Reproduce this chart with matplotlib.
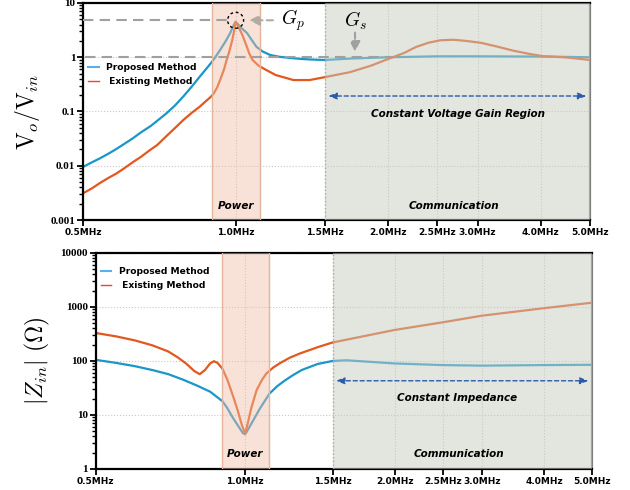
import matplotlib
matplotlib.use('Agg')
import matplotlib.pyplot as plt
from matplotlib.lines import Line2D
from matplotlib.patches import Circle
from matplotlib.transforms import ScaledTranslation
from matplotlib.ticker import FixedLocator, NullLocator, NullFormatter

plt.rcParams['mathtext.fontset'] = 'cm'

# ---- data (MHz) ----
xticks = [0.5, 1.0, 1.5, 2.0, 2.5, 3.0, 4.0, 5.0]
xticklabels = ['0.5MHz', '1.0MHz', '1.5MHz', '2.0MHz', '2.5MHz', '3.0MHz', '4.0MHz', '5.0MHz']

gain_f_prop = [0.5, 0.52, 0.54, 0.56, 0.58, 0.6, 0.627, 0.65, 0.68, 0.7, 0.731, 0.76, 0.789,
               0.82, 0.85, 0.88, 0.904, 0.932, 0.955, 0.975, 0.99, 1.0, 1.01, 1.025, 1.053,
               1.075, 1.10, 1.13, 1.17, 1.22, 1.28, 1.35, 1.4, 1.5, 1.7, 2.0, 2.5, 3.0, 4.0, 5.0]
gain_prop = [0.0095, 0.0115, 0.0137, 0.0165, 0.02, 0.0245, 0.032, 0.041, 0.054, 0.067, 0.093,
             0.13, 0.19, 0.29, 0.44, 0.65, 0.89, 1.36, 1.95, 2.75, 3.8, 4.5, 4.1, 3.5, 2.8,
             2.1, 1.55, 1.28, 1.1, 1.02, 0.97, 0.93, 0.91, 0.89, 0.95, 1.0, 1.04, 1.04, 1.03, 1.0]

gain_f_exist = [0.5, 0.52, 0.54, 0.56, 0.582, 0.6, 0.63, 0.65, 0.678, 0.7, 0.73, 0.76, 0.789,
                0.82, 0.85, 0.87, 0.89, 0.904, 0.92, 0.932, 0.95, 0.96, 0.97, 0.985, 0.995, 1.0,
                1.008, 1.018, 1.028, 1.04, 1.052, 1.065, 1.08, 1.11, 1.15, 1.2, 1.3, 1.4, 1.5,
                1.68, 1.85, 2.0, 2.15, 2.27, 2.4, 2.53, 2.69, 2.85, 3.06, 3.3, 3.53, 3.8, 4.03,
                4.5, 5.0]
gain_exist = [0.0031, 0.0038, 0.0048, 0.0059, 0.0072, 0.0087, 0.012, 0.0145, 0.0195, 0.024,
              0.035, 0.05, 0.07, 0.095, 0.123, 0.15, 0.18, 0.21, 0.28, 0.38, 0.62, 0.89, 1.2,
              2.07, 3.3, 4.5, 4.0, 3.3, 2.75, 2.1, 1.57, 1.15, 0.89, 0.7, 0.58, 0.47, 0.38,
              0.38, 0.43, 0.53, 0.7, 0.93, 1.2, 1.55, 1.85, 2.05, 2.1, 2.0, 1.83, 1.55, 1.32,
              1.15, 1.05, 0.99, 0.89]

z_f_prop = [0.5, 0.55, 0.6, 0.65, 0.7, 0.75, 0.8, 0.85, 0.9, 0.92, 0.946, 0.976, 0.99, 1.0,
            1.015, 1.03, 1.07, 1.12, 1.16, 1.2, 1.25, 1.3, 1.4, 1.5, 1.6, 2.0, 2.5, 3.0,
            4.0, 5.0]
z_prop = [105, 92, 80, 68, 57, 45, 35, 27, 18, 13.5, 8.7, 5.6, 4.6, 4.4, 5.5, 7.0, 13, 25,
          34, 43, 55, 68, 88, 100, 103, 90, 84, 82, 84, 85]

z_f_exist = [0.5, 0.55, 0.6, 0.65, 0.7, 0.73, 0.76, 0.79, 0.81, 0.83, 0.85, 0.865, 0.88, 0.9,
             0.92, 0.946, 0.965, 0.985, 1.0, 1.012, 1.03, 1.055, 1.08, 1.104, 1.14, 1.175,
             1.23, 1.29, 1.4, 1.5, 2.0, 2.5, 3.0, 4.0, 5.0]
z_exist = [330, 285, 240, 195, 150, 118, 90, 65, 57, 68, 90, 99, 92, 72, 46, 22, 12.5, 6.5,
           4.5, 7, 14, 29, 44, 59, 76, 91, 115, 138, 180, 220, 375, 520, 690, 950, 1200]

power_band = (0.9, 1.115)
comm_band = (1.5, 5.0)

c_blue = '#1a96c8'
c_orange = '#e2581e'
txt_font = dict(fontsize=7.5, fontweight='bold', style='italic', family='DejaVu Sans')

fig = plt.figure(figsize=(6.3, 4.9), dpi=100)
ax1 = fig.add_axes([0.1317, 0.551, 0.8048, 0.4429])
ax2 = fig.add_axes([0.152, 0.0429, 0.7877, 0.4408])


def style_axes(ax, ylim, yticks, ylabels):
    ax.set_xscale('log')
    ax.set_yscale('log')
    ax.set_xlim(0.5, 5.0)
    ax.set_ylim(*ylim)
    ax.xaxis.set_major_locator(FixedLocator(xticks))
    ax.xaxis.set_minor_locator(NullLocator())
    ax.set_xticklabels(xticklabels, fontsize=6.5, fontweight='bold', family='DejaVu Sans')
    ax.yaxis.set_major_locator(FixedLocator(yticks))
    minor = [m * t for t in yticks[:-1] for m in range(2, 10)]
    ax.yaxis.set_minor_locator(FixedLocator(minor))
    ax.yaxis.set_minor_formatter(NullFormatter())
    ax.set_yticklabels(ylabels, fontsize=8, fontweight='bold', family='Liberation Serif')
    ax.tick_params(axis='both', which='major', direction='out', length=4.5, width=1.3, pad=1)
    ax.tick_params(axis='y', which='minor', direction='out', length=3, width=1.0,
                   color='black')
    ax.grid(True, which='major', color='#c8c8c8', linestyle=':', linewidth=0.8, zorder=0)
    for s in ['left', 'bottom', 'top']:
        ax.spines[s].set_linewidth(1.6)
        ax.spines[s].set_color('black')
    ax.spines['right'].set_linewidth(1.6)
    ax.spines['right'].set_color('#808080')
    # shaded regions drawn over the curves
    ax.axvspan(*power_band, facecolor='#f0c0a8', alpha=0.45, edgecolor='none', zorder=3)
    for xb in power_band:
        ax.axvline(xb, color='#e6b49c', linewidth=1.0, zorder=3)
    ax.axvspan(*comm_band, facecolor='#c8cdc1', alpha=0.5, edgecolor='none', zorder=3)
    ax.axvline(comm_band[0], color='#a8aca4', linestyle=':', linewidth=1.0, zorder=3)


def add_legend(ax, loc_y):
    handles = [Line2D([], [], color='#5ab0ee', lw=1.5),
               Line2D([], [], color='#f04038', lw=1.0)]
    ax.legend(handles, ['Proposed Method', ' Existing Method'], loc='upper left',
              bbox_to_anchor=(0.0, loc_y), frameon=False, handlelength=1.1,
              handletextpad=0.8, labelspacing=0.55, borderaxespad=0.2,
              prop=dict(size=6.6, weight='bold', family='DejaVu Sans'))


# ---- top: voltage gain ----
style_axes(ax1, (0.001, 10), [0.001, 0.01, 0.1, 1, 10], ['0.001', '0.01', '0.1', '1', '10'])
ax1.plot(gain_f_prop, gain_prop, color=c_blue, lw=1.6, zorder=2)
ax1.plot(gain_f_exist, gain_exist, color=c_orange, lw=1.6, zorder=2)
ax1.hlines(4.8, 0.5, 0.965, colors='#a0a0a0', linestyles=(0, (5, 3)), lw=1.5, zorder=4)
ax1.hlines(1.0, 0.505, 2.05, colors='#a0a0a0', linestyles=(0, (5, 3)), lw=1.5, zorder=4)
circ = Circle((0, 0), 0.08, fill=False, ls=(0, (2, 2)), lw=1.0, ec='black',
              transform=fig.dpi_scale_trans + ScaledTranslation(1.0, 4.8, ax1.transData),
              zorder=5)
ax1.add_patch(circ)
ax1.annotate('', xy=(1.05, 4.8), xytext=(1.2, 4.8),
             arrowprops=dict(arrowstyle='-|>,head_length=0.6,head_width=0.3',
                             color='#b4aaa4', lw=1.5, ls=(0, (3, 2))), zorder=5)
ax1.text(1.23, 4.8, '$G_p$', fontsize=14, va='center', ha='left', zorder=5)
ax1.text(1.72, 4.6, '$G_s$', fontsize=14, va='center', ha='center', zorder=5)
ax1.annotate('', xy=(1.72, 1.12), xytext=(1.72, 3.2),
             arrowprops=dict(arrowstyle='-|>,head_length=0.6,head_width=0.3',
                             color='#a0a0a0', lw=1.5, ls=(0, (3, 2))), zorder=5)
ax1.annotate('', xy=(1.505, 0.193), xytext=(4.98, 0.193),
             arrowprops=dict(arrowstyle='<|-|>,head_length=0.5,head_width=0.2',
                             color='#2a5caa', lw=1.0, ls=(0, (3, 2))), zorder=5)
ax1.text(2.74, 0.09, 'Constant Voltage Gain Region', ha='center', va='center', zorder=5,
         **txt_font)
ax1.text(2.7, 0.0018, 'Communication', ha='center', va='center', zorder=5, **txt_font)
ax1.text(1.0, 0.0018, 'Power', ha='center', va='center', zorder=5, **txt_font)
ax1.set_ylabel(r'$\mathrm{V}_o/\mathrm{V}_{in}$', fontsize=17, labelpad=6)
add_legend(ax1, 0.75)

# ---- bottom: input impedance ----
style_axes(ax2, (1, 10000), [1, 10, 100, 1000, 10000], ['1', '10', '100', '1000', '10000'])
ax2.plot(z_f_prop, z_prop, color=c_blue, lw=1.6, zorder=2)
ax2.plot(z_f_exist, z_exist, color=c_orange, lw=1.6, zorder=2)
ax2.annotate('', xy=(1.505, 43), xytext=(4.98, 43),
             arrowprops=dict(arrowstyle='<|-|>,head_length=0.5,head_width=0.2',
                             color='#2a5caa', lw=1.0, ls=(0, (3, 2))), zorder=5)
ax2.text(2.67, 20.6, 'Constant Impedance', ha='center', va='center', zorder=5, **txt_font)
ax2.text(2.7, 1.9, 'Communication', ha='center', va='center', zorder=5, **txt_font)
ax2.text(1.0, 1.9, 'Power', ha='center', va='center', zorder=5, **txt_font)
ax2.set_ylabel(r'$|Z_{in}|\ (\mathit{\Omega})$', fontsize=17, labelpad=6)
add_legend(ax2, 0.96)

fig.savefig('out.png', dpi=100)
